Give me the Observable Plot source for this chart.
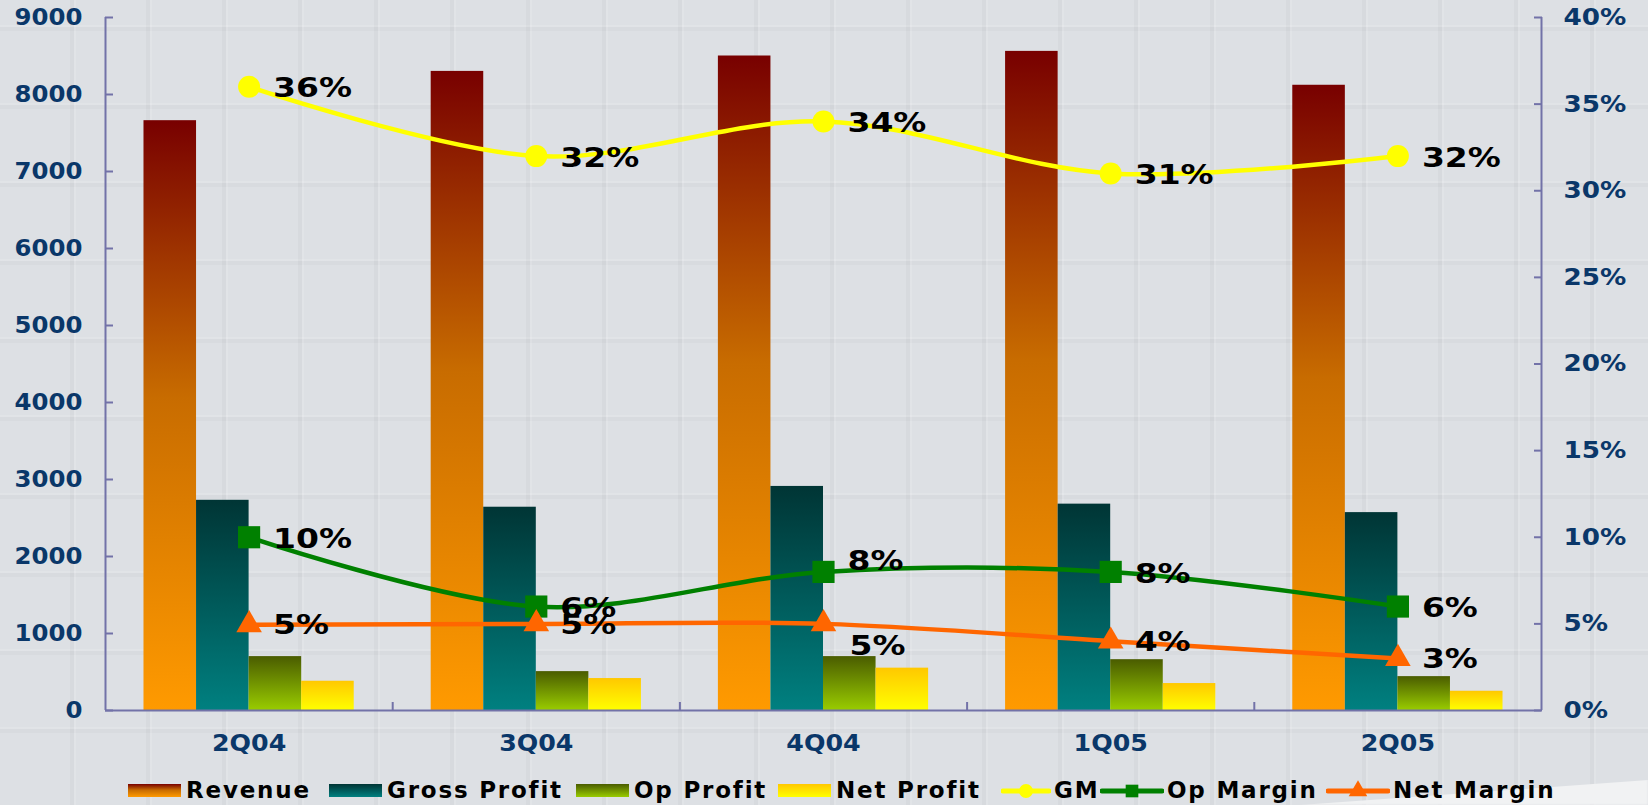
<!DOCTYPE html>
<html>
<head>
<meta charset="utf-8">
<script src="https://cdn.jsdelivr.net/npm/d3@7"></script>
<script src="https://cdn.jsdelivr.net/npm/@observablehq/plot@0.6"></script>
<style>
html, body { margin: 0; padding: 0; width: 1648px; height: 805px; overflow: hidden; }
body {
  background-color: #dde0e4;
  background-image:
    repeating-linear-gradient(90deg, rgba(255,255,255,0) 0px, rgba(255,255,255,0) 70px, rgba(0,0,0,0.028) 70px, rgba(0,0,0,0.028) 74px, rgba(255,255,255,0.12) 74px, rgba(255,255,255,0.12) 76px),
    repeating-linear-gradient(0deg, rgba(255,255,255,0) 0px, rgba(255,255,255,0) 72px, rgba(0,0,0,0.022) 72px, rgba(0,0,0,0.022) 76px, rgba(255,255,255,0.12) 76px, rgba(255,255,255,0.12) 78px);
  font-family: "DejaVu Sans", sans-serif;
  position: relative;
}
#curl {
  position: absolute; left: 1300px; top: 770px; width: 348px; height: 35px;
  background: #f1f2f3;
  clip-path: polygon(0px 35px, 348px 10px, 348px 35px);
  filter: blur(1px);
}
#chart { position: absolute; left: 0; top: 0; }
#legend { position: absolute; left: 0; top: 775px; width: 1648px; height: 30px; }
.item {
  position: absolute; top: 0; height: 30px;
  display: flex; align-items: center; white-space: nowrap;
  font-family: "DejaVu Sans", sans-serif; font-weight: bold; font-size: 23px; color: #000;
  letter-spacing: 1.8px;
}
.item .sw { display: inline-block; margin-right: 5px; flex: none; }
</style>
</head>
<body>
<div id="curl"></div>
<div id="chart"></div>
<div id="legend"></div>
<script>
// ---- data ----
const quarters = ["2Q04", "3Q04", "4Q04", "1Q05", "2Q05"];
const revenue = [7660, 8300, 8500, 8560, 8120];
const grossProfit = [2730, 2640, 2910, 2680, 2570];
const opProfit = [700, 505, 700, 660, 440];
const netProfit = [380, 415, 550, 350, 250];
const gm = [36.0, 32.0, 34.0, 31.0, 32.0];
const opMargin = [10.0, 6.0, 8.0, 8.0, 6.0];
const netMargin = [4.95, 5.0, 5.0, 4.0, 3.0];
const leftTicks = [0, 1000, 2000, 3000, 4000, 5000, 6000, 7000, 8000, 9000];
const rightTicks = [0, 5, 10, 15, 20, 25, 30, 35, 40];
const barNames = ["Revenue", "Gross Profit", "Op Profit", "Net Profit"];
const lineNames = ["GM", "Op Margin", "Net Margin"];

// ---- styles ----
const W = 1648, H = 770;
const PCT = 9000 / 40;            // right axis (percent) mapped onto left axis
const BW = 0.183;                 // bar width as fraction of category
const navy = "#0a3769";
const axisColor = "#7272a8";
const gradients = [
  {id: "gRev", stops: [[0, "#780000"], [0.47, "#c86c00"], [1, "#ff9a00"]]},
  {id: "gGross", stops: [[0, "#003535"], [1, "#008080"]]},
  {id: "gOp", stops: [[0, "#4a5c00"], [1, "#99cc00"]]},
  {id: "gNet", stops: [[0, "#ffc800"], [1, "#ffff00"]]}
];
const lineStyles = [
  {color: "#ffff00", symbol: "circle", r: 11},
  {color: "#008000", symbol: "square", r: 12.5},
  {color: "#ff6600", symbol: "triangle", r: 9.5}
];
const legendLeft = [128, 329, 576, 778, 1001, 1100, 1326];

const barSeries = [revenue, grossProfit, opProfit, netProfit];
const bars = barSeries.map((vals, k) => vals.map((v, i) => ({
  q: quarters[i], i, series: barNames[k], value: v,
  x1: i - 2 * BW + k * BW, x2: i - 2 * BW + (k + 1) * BW
})));
const lineSeries = [gm, opMargin, netMargin];
const lines = lineSeries.map((vals, k) => vals.map((v, i) => ({
  q: quarters[i], i, series: lineNames[k], pct: v, y: v * PCT
})));

const labelFont = {fontSize: 27, fontWeight: "bold", fill: "#000", textAnchor: "start", lineAnchor: "middle", fontFamily: "DejaVu Sans"};

const marks = [];
bars.forEach((data, k) => {
  marks.push(Plot.rectY(data, {x1: "x1", x2: "x2", y: "value", fill: `url(#${gradients[k].id})`}));
});
marks.push(Plot.ruleX([-0.5], {stroke: axisColor, strokeWidth: 2}));
marks.push(Plot.ruleX([4.5], {stroke: axisColor, strokeWidth: 2}));
marks.push(Plot.ruleY([0], {stroke: axisColor, strokeWidth: 2}));
lines.forEach((data, k) => {
  const s = lineStyles[k];
  marks.push(Plot.line(data, {x: "i", y: "y", stroke: s.color, strokeWidth: 4.5, curve: "catmull-rom"}));
  marks.push(Plot.dot(data, {x: "i", y: "y", symbol: s.symbol, r: s.r, fill: s.color, stroke: "none"}));
});
const fmt = d => Math.round(d.pct) + "%";
marks.push(Plot.text(lines[0], {x: "i", y: "y", text: fmt, dx: 24, dy: 2, ...labelFont}));
marks.push(Plot.text(lines[1], {filter: d => d.i !== 2, x: "i", y: "y", text: fmt, dx: 24, dy: 2, ...labelFont}));
marks.push(Plot.text(lines[1], {filter: d => d.i === 2, x: "i", y: "y", text: fmt, dx: 24, dy: -11, ...labelFont}));
marks.push(Plot.text(lines[2], {filter: d => d.i !== 2, x: "i", y: "y", text: fmt, dx: 24, dy: 1, ...labelFont}));
marks.push(Plot.text(lines[2], {filter: d => d.i === 2, x: "i", y: "y", text: fmt, dx: 26, dy: 22, ...labelFont}));
const axisText = {fill: navy, fontSize: 23, fontWeight: "bold", fontFamily: "DejaVu Sans"};
marks.push(Plot.axisY({anchor: "left", ticks: leftTicks, tickSize: 0, tickPadding: 23, tickFormat: d => String(d), ...axisText}));
marks.push(Plot.axisY({anchor: "left", ticks: leftTicks, tickSize: -8, stroke: axisColor, strokeWidth: 2, tickFormat: () => ""}));
marks.push(Plot.axisY({anchor: "right", ticks: rightTicks.map(d => d * PCT), tickSize: 0, tickPadding: 22, tickFormat: d => Math.round(d / PCT) + "%", ...axisText}));
marks.push(Plot.axisY({anchor: "right", ticks: rightTicks.map(d => d * PCT), tickSize: -8, stroke: axisColor, strokeWidth: 2, tickFormat: () => ""}));
marks.push(Plot.axisX({ticks: [0, 1, 2, 3, 4], tickSize: 0, tickPadding: 24, tickFormat: i => quarters[i], ...axisText}));
marks.push(Plot.axisX({ticks: [0.5, 1.5, 2.5, 3.5], tickSize: -8, stroke: axisColor, strokeWidth: 2, tickFormat: () => ""}));

const svg = Plot.plot({
  width: W, height: H,
  marginLeft: 105, marginRight: 107, marginTop: 17, marginBottom: 60,
  style: {background: "transparent", fontFamily: "DejaVu Sans", overflow: "visible"},
  x: {type: "linear", domain: [-0.5, 4.5]},
  y: {domain: [0, 9000]},
  marks
});

const ns = "http://www.w3.org/2000/svg";
const defs = document.createElementNS(ns, "defs");
gradients.forEach(g => {
  const lg = document.createElementNS(ns, "linearGradient");
  lg.setAttribute("id", g.id);
  lg.setAttribute("x1", "0"); lg.setAttribute("y1", "0");
  lg.setAttribute("x2", "0"); lg.setAttribute("y2", "1");
  g.stops.forEach(([o, c]) => {
    const st = document.createElementNS(ns, "stop");
    st.setAttribute("offset", o);
    st.setAttribute("stop-color", c);
    lg.appendChild(st);
  });
  defs.appendChild(lg);
});
svg.insertBefore(defs, svg.firstChild);
document.getElementById("chart").appendChild(svg);

// widen glyphs (the original uses a wide Verdana-like face)
function stretch(sel, f) {
  svg.querySelectorAll(sel).forEach(t => {
    const L = t.getComputedTextLength();
    if (L > 0) {
      t.setAttribute("textLength", (L * f).toFixed(1));
      t.setAttribute("lengthAdjust", "spacingAndGlyphs");
    }
  });
}
stretch('g[aria-label="text"] text', 1.22);
svg.querySelectorAll('g[aria-label="y-axis tick label"]').forEach(g => {
  const anchor = g.getAttribute("text-anchor");
  g.querySelectorAll("text").forEach(t => {
    const L = t.getComputedTextLength();
    if (L > 0) {
      t.setAttribute("textLength", (L * (anchor === "end" ? 1.06 : 1.14)).toFixed(1));
      t.setAttribute("lengthAdjust", "spacingAndGlyphs");
    }
  });
});
stretch('g[aria-label="x-axis tick label"] text', 1.1);

// ---- legend ----
const legend = document.getElementById("legend");
barNames.forEach((name, k) => {
  const g = gradients[k];
  const item = document.createElement("span");
  item.className = "item";
  item.style.left = legendLeft[k] + "px";
  const sw = document.createElement("span");
  sw.className = "sw";
  sw.style.width = "53px"; sw.style.height = "13px";
  sw.style.background = `linear-gradient(to bottom, ${g.stops.map(([o, c]) => c + " " + (o * 100) + "%").join(", ")})`;
  item.appendChild(sw);
  item.appendChild(document.createTextNode(name));
  legend.appendChild(item);
});
const symPaths = {
  circle: d3.symbol(d3.symbolCircle, 150)(),
  square: d3.symbol(d3.symbolSquare, 160)(),
  triangle: d3.symbol(d3.symbolTriangle, 150)()
};
lineNames.forEach((name, k) => {
  const s = lineStyles[k];
  const item = document.createElement("span");
  item.className = "item";
  item.style.left = legendLeft[4 + k] + "px";
  const w = k === 0 ? 50 : 64;
  const sw = document.createElementNS(ns, "svg");
  sw.setAttribute("width", w); sw.setAttribute("height", 24);
  sw.setAttribute("class", "sw");
  sw.style.marginRight = "3px";
  sw.innerHTML = `<line x1="2" x2="${w - 2}" y1="13" y2="13" stroke="${s.color}" stroke-width="5" stroke-linecap="round"/>` +
    `<path d="${symPaths[s.symbol]}" transform="translate(${w / 2},13)" fill="${s.color}"/>`;
  item.appendChild(sw);
  item.appendChild(document.createTextNode(name));
  legend.appendChild(item);
});
</script>
</body>
</html>
